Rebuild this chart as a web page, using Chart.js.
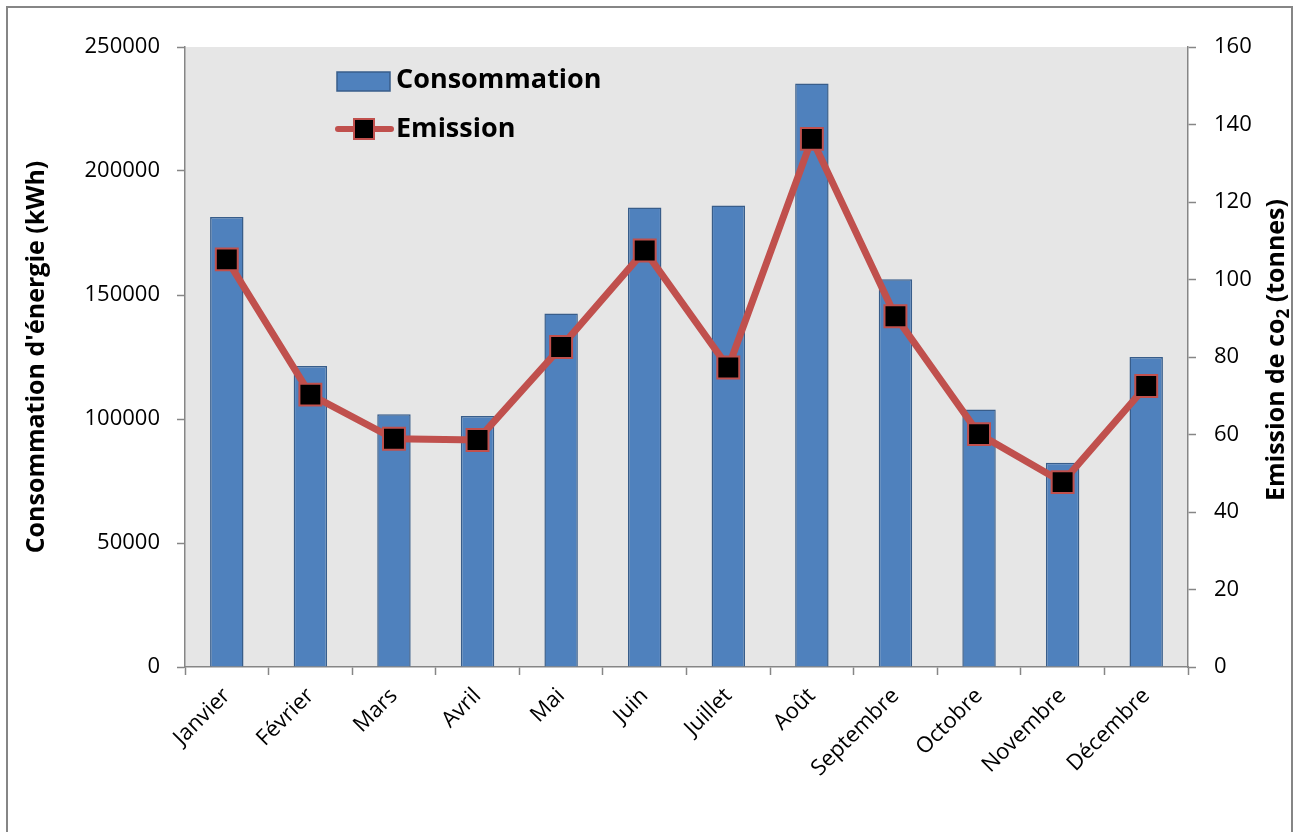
<!DOCTYPE html>
<html lang="fr">
<head>
<meta charset="utf-8">
<title>Consommation d'énergie et émission de CO2</title>
<script src="https://cdn.jsdelivr.net/npm/chart.js@4.4.1/dist/chart.umd.min.js"></script>
<style>
  html, body { margin: 0; padding: 0; background: #ffffff; }
  #wrap { position: relative; width: 1298px; height: 832px; }
</style>
</head>
<body>
<div id="wrap"><canvas id="chart" width="1298" height="832"></canvas></div>
<script>
// Monthly data
const months = ['Janvier', 'Février', 'Mars', 'Avril', 'Mai', 'Juin', 'Juillet', 'Août', 'Septembre', 'Octobre', 'Novembre', 'Décembre'];
const consommation = [181500, 121400, 101900, 101200, 142500, 185300, 186100, 235300, 156400, 103800, 82400, 125000];
const emission = [105.2, 70.3, 58.9, 58.6, 82.6, 107.5, 77.3, 136.3, 90.5, 60.1, 47.7, 72.5];

// Axis tick values
const energyTicks = [0, 50000, 100000, 150000, 200000, 250000];
const co2Ticks = [0, 20, 40, 60, 80, 100, 120, 140, 160];

const FONT = "'Open Sans', 'DejaVu Sans', sans-serif";
const AXIS_GREY = '#868686';
const BAR_FILL = '#4F81BD';
const BAR_EDGE = '#385D8A';
const LINE_RED = '#C0504D';

// Grey plot background, outer frame, in-plot legend and right axis title
const decorations = {
  id: 'decorations',
  beforeDraw(chart) {
    const { ctx, chartArea: a } = chart;
    ctx.save();
    ctx.fillStyle = '#E6E6E6';
    ctx.fillRect(a.left, a.top, a.right - a.left, a.bottom - a.top);
    ctx.strokeStyle = AXIS_GREY;
    ctx.lineWidth = 2;
    ctx.strokeRect(7, 7, chart.width - 13, chart.height + 10);
    ctx.restore();
  },
  afterDraw(chart) {
    const { ctx, chartArea: a } = chart;
    ctx.save();
    // Legend
    const lx = a.left + 152;
    ctx.fillStyle = BAR_FILL;
    ctx.strokeStyle = BAR_EDGE;
    ctx.lineWidth = 1.5;
    ctx.fillRect(lx, 72, 53, 19);
    ctx.strokeRect(lx, 72, 53, 19);
    ctx.strokeStyle = LINE_RED;
    ctx.lineWidth = 6;
    ctx.lineCap = 'round';
    ctx.beginPath();
    ctx.moveTo(lx + 1, 129);
    ctx.lineTo(lx + 54, 129);
    ctx.stroke();
    ctx.fillStyle = '#000';
    ctx.fillRect(lx + 17, 119, 20, 20);
    ctx.lineWidth = 2;
    ctx.strokeRect(lx + 17, 119, 20, 20);
    ctx.fillStyle = '#000';
    ctx.font = 'bold 27px ' + FONT;
    ctx.textBaseline = 'middle';
    ctx.textAlign = 'left';
    ctx.fillText(chart.data.datasets[0].label, lx + 59, 80);
    ctx.fillText(chart.data.datasets[1].label, lx + 59, 129);

    // Right axis title with subscript
    const cx = 1275, cy = 350;
    const big = 'bold 25px ' + FONT;
    const small = 'bold 17px ' + FONT;
    const p1 = 'Emission de co', p2 = '2', p3 = ' (tonnes)';
    ctx.font = big;
    const w1 = ctx.measureText(p1).width, w3 = ctx.measureText(p3).width;
    ctx.font = small;
    const w2 = ctx.measureText(p2).width;
    const total = w1 + w2 + w3;
    ctx.translate(cx, cy);
    ctx.rotate(-Math.PI / 2);
    ctx.textBaseline = 'alphabetic';
    let x = -total / 2;
    ctx.font = big;
    ctx.fillText(p1, x, 9);
    x += w1;
    ctx.font = small;
    ctx.fillText(p2, x, 14);
    x += w2;
    ctx.font = big;
    ctx.fillText(p3, x, 9);
    ctx.restore();
  }
};

const fixedTicks = values => scale => { scale.ticks = values.map(v => ({ value: v })); };

new Chart(document.getElementById('chart'), {
  data: {
    labels: months,
    datasets: [
      {
        type: 'bar',
        label: 'Consommation',
        data: consommation,
        yAxisID: 'y',
        backgroundColor: BAR_FILL,
        borderColor: BAR_EDGE,
        borderWidth: 1.5,
        categoryPercentage: 1,
        barPercentage: 0.4,
        order: 2
      },
      {
        type: 'line',
        label: 'Emission',
        data: emission,
        yAxisID: 'y1',
        borderColor: LINE_RED,
        borderWidth: 7,
        pointStyle: 'rect',
        pointRadius: 15.5,
        pointHoverRadius: 15.5,
        pointBackgroundColor: '#000000',
        pointBorderColor: LINE_RED,
        pointBorderWidth: 2,
        tension: 0,
        order: 1
      }
    ]
  },
  options: {
    responsive: false,
    animation: false,
    layout: { padding: { top: 47, left: 0, right: 0, bottom: 0 } },
    plugins: {
      legend: { display: false },
      tooltip: { enabled: false }
    },
    scales: {
      x: {
        offset: true,
        grid: {
          offset: true,
          drawOnChartArea: false,
          drawTicks: true,
          tickLength: 8,
          tickColor: AXIS_GREY,
          tickWidth: 1.5
        },
        border: { color: AXIS_GREY, width: 1.5 },
        ticks: {
          color: '#000',
          font: { family: FONT, size: 22 },
          minRotation: 45,
          maxRotation: 45,
          padding: 8,
          autoSkip: false
        },
        afterFit(scale) { scale.height = 165; }
      },
      y: {
        position: 'left',
        min: 0,
        max: 250000,
        afterBuildTicks: fixedTicks(energyTicks),
        grid: {
          drawOnChartArea: false,
          tickLength: 8,
          tickColor: AXIS_GREY,
          tickWidth: 1.5
        },
        border: { color: AXIS_GREY, width: 1.5 },
        ticks: {
          color: '#000',
          font: { family: FONT, size: 22 },
          padding: 17,
          callback: v => String(v)
        },
        title: {
          display: true,
          text: "Consommation d'énergie (kWh)",
          color: '#000',
          font: { family: FONT, size: 25, weight: 'bold' },
          padding: { top: 22, bottom: 0 }
        },
        afterFit(scale) { scale.width = 185; }
      },
      y1: {
        position: 'right',
        min: 0,
        max: 160,
        afterBuildTicks: fixedTicks(co2Ticks),
        grid: {
          drawOnChartArea: false,
          tickLength: 8,
          tickColor: AXIS_GREY,
          tickWidth: 1.5
        },
        border: { color: AXIS_GREY, width: 1.5 },
        ticks: {
          color: '#000',
          font: { family: FONT, size: 22 },
          padding: 18,
          callback: v => String(v)
        },
        afterFit(scale) { scale.width = 110; }
      }
    }
  },
  plugins: [decorations]
});
</script>
</body>
</html>
